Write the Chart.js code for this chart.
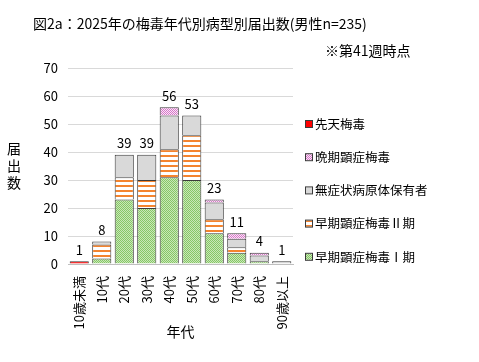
<!DOCTYPE html>
<html>
<head>
<meta charset="utf-8">
<script src="https://cdn.jsdelivr.net/npm/chart.js@4/dist/chart.umd.min.js"></script>
<style>
  body { margin: 0; background: #fff; }
  canvas { display: block; }
</style>
</head>
<body>
<canvas id="chart" width="479" height="362"></canvas>
<script>
// 年代カテゴリ
const ageGroups = ['10歳未満', '10代', '20代', '30代', '40代', '50代', '60代', '70代', '80代', '90歳以上'];

// 病型別の届出数
const earlyStage1 = [0, 2, 23, 20, 31, 30, 11, 4, 1, 0];   // 早期顕症梅毒Ⅰ期
const earlyStage2 = [0, 5, 8, 10, 10, 16, 5, 2, 0, 0];     // 早期顕症梅毒Ⅱ期
const asymptomatic = [0, 1, 8, 9, 12, 7, 6, 3, 2, 1];      // 無症状病原体保有者
const lateStage = [0, 0, 0, 0, 3, 0, 1, 2, 1, 0];          // 晩期顕症梅毒
const congenital = [1, 0, 0, 0, 0, 0, 0, 0, 0, 0];         // 先天梅毒

const yTicks = [0, 10, 20, 30, 40, 50, 60, 70];

const FONT = '"Noto Sans CJK JP", "Noto Sans", sans-serif';

function makePattern(w, h, draw) {
    const c = document.createElement('canvas');
    c.width = w;
    c.height = h;
    draw(c.getContext('2d'));
    return c.getContext('2d').createPattern(c, 'repeat');
}

const greenPat = makePattern(2, 2, g => {
    g.fillStyle = '#c9e7b8';
    g.fillRect(0, 0, 2, 2);
    g.fillStyle = '#86c766';
    g.fillRect(0, 0, 1, 1);
    g.fillRect(1, 1, 1, 1);
});
const orangePat = makePattern(4, 5, g => {
    g.fillStyle = '#ffffff';
    g.fillRect(0, 0, 4, 5);
    g.fillStyle = '#f4842f';
    g.fillRect(0, 0, 4, 2);
});
const pinkPat = makePattern(2, 2, g => {
    g.fillStyle = '#fbe6f7';
    g.fillRect(0, 0, 2, 2);
    g.fillStyle = '#d677c8';
    g.fillRect(0, 0, 1, 1);
    g.fillRect(1, 1, 1, 1);
});

const datasets = [
    { label: '早期顕症梅毒Ⅰ期', data: earlyStage1, backgroundColor: greenPat },
    { label: '早期顕症梅毒Ⅱ期', data: earlyStage2, backgroundColor: orangePat },
    { label: '無症状病原体保有者', data: asymptomatic, backgroundColor: '#d9d9d9' },
    { label: '晩期顕症梅毒', data: lateStage, backgroundColor: pinkPat },
    { label: '先天梅毒', data: congenital, backgroundColor: '#ff0000' }
].map(d => Object.assign(d, {
    borderColor: '#3a3a3a',
    borderWidth: 1,
    barPercentage: 0.85,
    categoryPercentage: 1
}));

const totals = ageGroups.map((_, i) => datasets.reduce((s, d) => s + d.data[i], 0));

// タイトル・合計値・凡例・縦書き軸タイトル
const extras = {
    id: 'extras',
    afterDraw(chart) {
        const ctx = chart.ctx;
        const x = chart.scales.x;
        const y = chart.scales.y;
        ctx.save();
        ctx.fillStyle = '#000';

        ctx.font = '14px ' + FONT;
        ctx.textAlign = 'left';
        ctx.textBaseline = 'middle';
        ctx.fillText('図2a：2025年の梅毒年代別病型別届出数(男性n=235)', 33, 24);
        ctx.fillText('※第41週時点', 325, 51);

        // 合計値
        ctx.font = '13px ' + FONT;
        ctx.textAlign = 'center';
        ctx.textBaseline = 'bottom';
        totals.forEach((t, i) => {
            ctx.fillText(String(t), x.getPixelForValue(i), y.getPixelForValue(t) - 5);
        });

        // 縦書きの軸タイトル
        ctx.font = '14px ' + FONT;
        ctx.textBaseline = 'middle';
        ['届', '出', '数'].forEach((ch, i) => ctx.fillText(ch, 14, 149 + i * 17));

        // 凡例（上から先天梅毒）
        ctx.font = '12.5px ' + FONT;
        ctx.textAlign = 'left';
        const legendItems = datasets.slice().reverse();
        legendItems.forEach((d, i) => {
            const cy = 124 + i * 33.2;
            ctx.fillStyle = d.backgroundColor;
            ctx.fillRect(306, cy - 3, 6, 6);
            ctx.strokeStyle = '#3a3a3a';
            ctx.lineWidth = 1;
            ctx.strokeRect(305.5, cy - 3.5, 7, 7);
            ctx.fillStyle = '#000';
            ctx.fillText(d.label, 315, cy);
        });
        ctx.restore();
    }
};

new Chart(document.getElementById('chart'), {
    type: 'bar',
    data: { labels: ageGroups, datasets: datasets },
    options: {
        responsive: false,
        animation: false,
        devicePixelRatio: 1,
        layout: { padding: { left: 38, right: 186, top: 68, bottom: 22 } },
        plugins: {
            legend: { display: false },
            tooltip: { enabled: false }
        },
        scales: {
            x: {
                stacked: true,
                grid: { display: false },
                border: { color: '#bfbfbf' },
                ticks: {
                    minRotation: 90,
                    maxRotation: 90,
                    color: '#000',
                    font: { size: 13, family: FONT },
                    padding: 4
                },
                title: {
                    display: true,
                    text: '年代',
                    color: '#000',
                    font: { size: 14, family: FONT },
                    padding: 0
                },
                afterFit(scale) { scale.height = 76; }
            },
            y: {
                stacked: true,
                min: 0,
                max: 70,
                afterBuildTicks(scale) { scale.ticks = yTicks.map(v => ({ value: v })); },
                grid: { color: '#d9d9d9', drawTicks: false },
                border: { display: false },
                ticks: {
                    color: '#000',
                    font: { size: 13, family: FONT },
                    padding: 10
                },
                afterFit(scale) { scale.width = 30; }
            }
        }
    },
    plugins: [extras]
});
</script>
</body>
</html>
